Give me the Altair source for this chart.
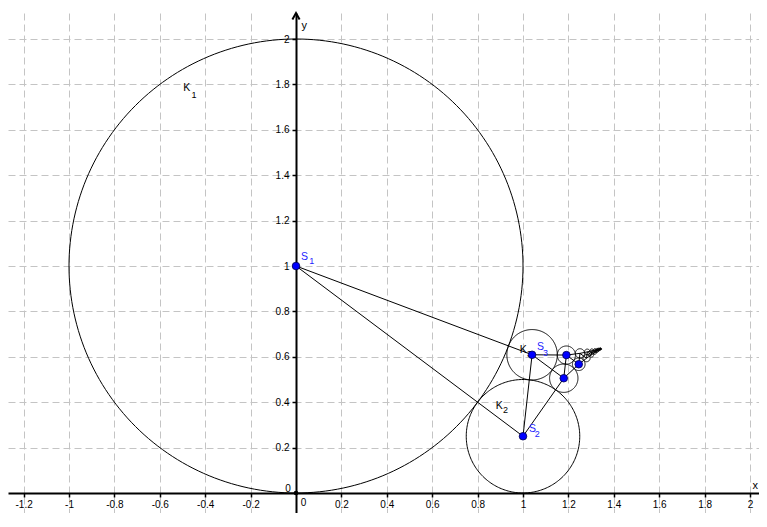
import altair as alt
import numpy as np
import pandas as pd

# ---- data ----
# chain of touching circles K1, K2, K3, ... (centre x, centre y, radius)
radius = [1.0, 0.25, 0.1111, 0.0625, 0.04, 0.0278, 0.0204, 0.0156, 0.0123, 0.01,
          0.0083, 0.0069, 0.0059, 0.0051, 0.0044, 0.0039, 0.0035, 0.0031, 0.0028, 0.0025]
cx = [0.0, 1.0, 1.04, 1.1796, 1.1911, 1.2456, 1.2510, 1.2800, 1.2832, 1.3011,
      1.3032, 1.3154, 1.3169, 1.3257, 1.3268, 1.3335, 1.3343, 1.3396, 1.3403, 1.3445]
cy = [1.0, 0.25, 0.6089, 0.5057, 0.6076, 0.5673, 0.6152, 0.5938, 0.6216, 0.6083,
      0.6265, 0.6174, 0.6302, 0.6237, 0.6332, 0.6282, 0.6355, 0.6316, 0.6374, 0.6343]
shown_points = 6          # centres drawn as blue points
x_ticks = [-1.2, -1, -0.8, -0.6, -0.4, -0.2, 0.2, 0.4, 0.6, 0.8, 1, 1.2, 1.4, 1.6, 1.8, 2]
y_ticks = [0.2, 0.4, 0.6, 0.8, 1, 1.2, 1.4, 1.6, 1.8, 2]

# ---- layout ----
W, H = 751, 500
PX = 227.0                       # pixels per unit on both axes
X0, Y0 = 288.0, 480.0            # pixel position of the origin inside the plot
xdom = [-X0 / PX, (W - X0) / PX]
ydom = [-(H - Y0) / PX, Y0 / PX]
xs = alt.Scale(domain=xdom, nice=False, zero=False)
ys = alt.Scale(domain=ydom, nice=False, zero=False)
FONT = "Liberation Sans"
BLUE = "#2323ff"

# ---- tables ----
n = len(radius)
t = np.linspace(0, 2 * np.pi, 241)
circ = pd.concat([
    pd.DataFrame({"cid": i, "k": np.arange(len(t)),
                  "x": cx[i] + radius[i] * np.cos(t),
                  "y": cy[i] + radius[i] * np.sin(t)})
    for i in range(n)
], ignore_index=True)

edges = []
for i in range(n):
    for step in (1, 2):
        j = i + step
        if j < n:
            edges.append({"x": cx[i], "y": cy[i], "x2": cx[j], "y2": cy[j]})
edges = pd.DataFrame(edges)

pts = pd.DataFrame({"x": cx[:shown_points], "y": cy[:shown_points]})
one = pd.DataFrame({"a": [0]})

x_axis = alt.Axis(values=x_ticks, orient="bottom", offset=-(H - Y0), title=None,
                  domainColor="black", domainWidth=2, tickColor="black", tickWidth=1.5,
                  tickSize=4, labelPadding=2, labelFont=FONT, labelFontSize=10,
                  labelColor="black", labelExpr="toString(datum.value)",
                  labelOverlap=False, labelFlush=False, labelBound=False,
                  grid=True, gridColor="#c4c4c4", gridDash=[7, 4], gridWidth=1)
y_axis = alt.Axis(values=y_ticks, orient="left", offset=-X0, title=None,
                  domainColor="black", domainWidth=2, tickColor="black", tickWidth=1.5,
                  tickSize=4, labelPadding=3, labelFont=FONT, labelFontSize=10,
                  labelColor="black", labelExpr="toString(datum.value)",
                  labelOverlap=False, labelFlush=False, labelBound=False,
                  grid=True, gridColor="#c4c4c4", gridDash=[7, 4], gridWidth=1)


def X(field=None, datum=None):
    if datum is not None:
        return alt.X(datum=datum, scale=xs, axis=x_axis)
    return alt.X(field, scale=xs, axis=x_axis)


def Y(field=None, datum=None):
    if datum is not None:
        return alt.Y(datum=datum, scale=ys, axis=y_axis)
    return alt.Y(field, scale=ys, axis=y_axis)


circles = alt.Chart(circ).mark_line(color="black", strokeWidth=1).encode(
    x=X("x:Q"), y=Y("y:Q"), detail="cid:N", order="k:Q",
)

segments = alt.Chart(edges).mark_rule(color="black", strokeWidth=1).encode(
    x=X("x:Q"), y=Y("y:Q"), x2="x2:Q", y2="y2:Q",
)

points = alt.Chart(pts).mark_point(shape="circle", filled=True, size=58, fill="#0000ff",
                                   stroke="#00004d", strokeWidth=0.8, opacity=1).encode(
    x=X("x:Q"), y=Y("y:Q"),
)

origin = alt.Chart(one).mark_point(shape="circle", filled=True, size=22, color="black",
                                   opacity=1).encode(x=X(datum=0), y=Y(datum=0))

arrow = alt.Chart(one).mark_point(shape="M-1,1.8L0,0L1,1.8", filled=False, size=52,
                                  stroke="black", strokeWidth=2, opacity=1).encode(
    x=X(datum=0), y=alt.value(0))


def txt(x, y, text, dx, dy, size=10.5, color="black", align="left", baseline="alphabetic"):
    return alt.Chart(one).mark_text(text=text, dx=dx, dy=dy, font=FONT, fontSize=size,
                                    color=color, align=align, baseline=baseline).encode(
        x=x, y=y)


def at(i):
    return (X(datum=cx[i]), Y(datum=cy[i]))


labels = []
# circle labels (K) – drawn before the points so K3's index hides under S3
for i, (dx, dy, sdx, sdy) in enumerate([(-112.7, -174.7, -104.5, -168.5),
                                        (-27.3, -27.4, -20.0, -23.0),
                                        (-12.4, -1.8, -5.0, 2.5)]):
    x, y = at(i)
    labels.append(txt(x, y, "K", dx, dy))
    labels.append(txt(x, y, str(i + 1), sdx, sdy, size=9))
k_labels = alt.layer(*labels)

labels = []
for i, (dx, dy, sdx, sdy) in enumerate([(5.0, -6.3, 13.3, -2.0),
                                        (6.0, -4.4, 11.7, 0.3),
                                        (5.0, -4.4, 11.0, 0.9)]):
    x, y = at(i)
    labels.append(txt(x, y, "S", dx, dy, color=BLUE))
    labels.append(txt(x, y, str(i + 1), sdx, sdy, size=9, color=BLUE))
s_labels = alt.layer(*labels)

zx = X(datum=0)
zy = Y(datum=0)
axis_text = alt.layer(
    txt(zx, zy, "0", 7.5, 10, size=10, align="center", baseline="middle"),
    txt(zx, zy, "0", -8, -4, size=10, align="center", baseline="middle"),
    txt(alt.value(W - 1), zy, "x", 0, -4.5, size=11, align="right"),
    txt(zx, alt.value(0), "y", 5.5, 15.5, size=11),
)

chart = alt.layer(
    circles, segments, k_labels, points, origin, arrow, s_labels, axis_text
).properties(
    width=W, height=H,
    autosize=alt.AutoSizeParams(type="none"),
    padding={"left": 0, "top": 5, "right": 0, "bottom": 0},
    background="white",
).configure_view(stroke=None)

chart.save("out.html", embed_options={"renderer": "svg", "actions": False})
